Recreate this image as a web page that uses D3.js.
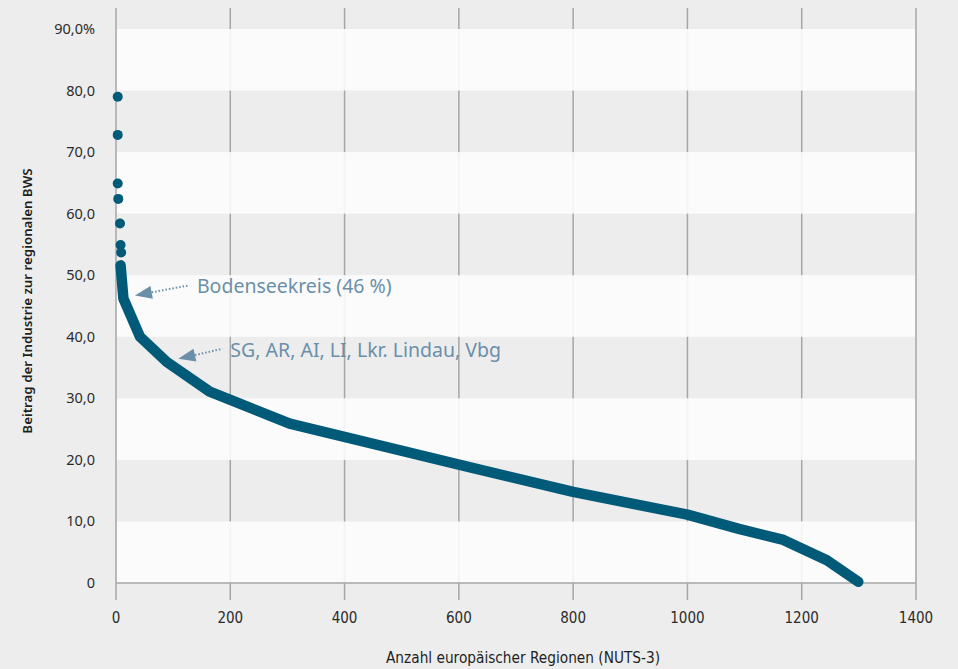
<!DOCTYPE html>
<html>
<head>
<meta charset="utf-8">
<script src="https://cdn.jsdelivr.net/npm/d3@7"></script>
<style>
  body { margin: 0; background: #ededed; }
  svg { display: block; font-family: "Noto Sans", sans-serif; }
</style>
</head>
<body>
<script>
// Single regions shown as dots (x = rank, y = share in %)
const dotX = [3, 3, 3, 4, 7, 8, 9];
const dotY = [79.0, 72.8, 64.9, 62.4, 58.4, 54.9, 53.7];

// Ranked curve for the remaining regions
const lineX = [8, 13, 42, 89, 164, 304, 620, 800, 1000, 1090, 1168, 1244, 1299];
const lineY = [51.6, 46.2, 40.0, 35.9, 31.1, 25.9, 18.8, 14.8, 11.1, 8.8, 7.0, 3.7, 0.2];

const xTicks = [0, 200, 400, 600, 800, 1000, 1200, 1400];
const yTicks = [0, 10, 20, 30, 40, 50, 60, 70, 80, 90];
const yTickLabels = ["0", "10,0", "20,0", "30,0", "40,0", "50,0", "60,0", "70,0", "80,0", "90,0%"];

const noteLabels = ["Bodenseekreis (46 %)", "SG, AR, AI, LI, Lkr. Lindau, Vbg"];
const noteX = [13, 89];
const noteY = [46.2, 35.9];

const width = 958, height = 669;
const plotLeft = 116, plotRight = 916, plotTop = 29, plotBottom = 583;

const svg = d3.select("body").append("svg")
    .attr("width", width)
    .attr("height", height);

const x = d3.scaleLinear().domain([0, 1400]).range([plotLeft, plotRight]);
const y = d3.scaleLinear().domain([0, 90]).range([plotBottom, plotTop]);

const ink = "#005a78";
const noteColor = "#6b8fa9";
const condensed = "'DejaVu Sans Condensed', 'Liberation Sans Narrow', sans-serif";

// background
svg.append("rect").attr("width", width).attr("height", height).attr("fill", "#ededed");

// inner vertical grid lines
svg.append("g").selectAll("line")
  .data(xTicks.slice(1, -1))
  .join("line")
    .attr("x1", d => x(d)).attr("x2", d => x(d))
    .attr("y1", 8).attr("y2", plotBottom + 17)
    .attr("stroke", "#a6a6a6").attr("stroke-width", 1.5);

// alternating light bands (0-10, 20-30, ...)
svg.append("g").selectAll("rect")
  .data(yTicks.filter(d => d % 20 === 0 && d < 90))
  .join("rect")
    .attr("x", plotLeft).attr("width", plotRight - plotLeft)
    .attr("y", d => y(d + 10)).attr("height", d => y(d) - y(d + 10))
    .attr("fill", "#fcfcfc").attr("opacity", 0.9);

// edge lines and baseline
[0, 1400].forEach(v => {
  svg.append("line")
    .attr("x1", x(v)).attr("x2", x(v))
    .attr("y1", 8).attr("y2", plotBottom + 17)
    .attr("stroke", "#a6a6a6").attr("stroke-width", 1.5);
});
svg.append("line")
  .attr("x1", plotLeft).attr("x2", plotRight)
  .attr("y1", plotBottom).attr("y2", plotBottom)
  .attr("stroke", "#a6a6a6").attr("stroke-width", 1.5);

// y tick labels
svg.append("g").selectAll("text")
  .data(yTicks)
  .join("text")
    .attr("x", 95)
    .attr("y", d => y(d) + 5)
    .attr("text-anchor", "end")
    .style("font-size", "14.5px")
    .attr("fill", "#2b2b2b")
    .text((d, i) => yTickLabels[i]);

// x tick labels
svg.append("g").selectAll("text")
  .data(xTicks)
  .join("text")
    .attr("x", d => x(d))
    .attr("y", 623)
    .attr("text-anchor", "middle")
    .style("font-size", "15px")
    .style("font-family", condensed)
    .attr("fill", "#2b2b2b")
    .text(d => d);

// axis titles
svg.append("text")
  .attr("x", 386)
  .attr("y", 662.5)
  .attr("textLength", 274)
  .attr("lengthAdjust", "spacingAndGlyphs")
  .style("font-size", "16px")
  .style("font-family", condensed)
  .style("font-weight", "500")
  .attr("fill", "#1e1e1e")
  .text("Anzahl europäischer Regionen (NUTS-3)");

svg.append("text")
  .attr("transform", "translate(32, 301) rotate(-90)")
  .attr("text-anchor", "middle")
  .style("font-size", "13.3px")
  .style("font-weight", "600")
  .attr("fill", "#1e1e1e")
  .text("Beitrag der Industrie zur regionalen BWS");

// curve
svg.append("path")
  .datum(lineX.map((d, i) => [d, lineY[i]]))
  .attr("fill", "none")
  .attr("stroke", ink)
  .attr("stroke-width", 10.5)
  .attr("stroke-linejoin", "round")
  .attr("stroke-linecap", "round")
  .attr("d", d3.line().x(d => x(d[0])).y(d => y(d[1])));

// dots
svg.append("g").selectAll("circle")
  .data(dotX.map((d, i) => [d, dotY[i]]))
  .join("circle")
    .attr("cx", d => x(d[0]))
    .attr("cy", d => y(d[1]))
    .attr("r", 5)
    .attr("fill", ink);

// annotations with dotted arrows
const arrowLen = [54, 44];
const noteG = svg.append("g");
noteLabels.forEach((label, i) => {
  const tipX = x(noteX[i]) + 11.5, tipY = y(noteY[i]) - 3.2;
  const tailX = tipX + arrowLen[i], tailY = tipY - 10;
  const ang = Math.atan2(tailY - tipY, tailX - tipX);
  const len = 17, half = 6.5;
  const bx = tipX + len * Math.cos(ang), by = tipY + len * Math.sin(ang);
  noteG.append("line")
    .attr("x1", bx).attr("y1", by)
    .attr("x2", tailX).attr("y2", tailY)
    .attr("stroke", noteColor)
    .attr("stroke-width", 2)
    .attr("stroke-dasharray", "1.5,2");
  noteG.append("path")
    .attr("d", `M${tipX},${tipY} L${bx - half * Math.sin(ang)},${by + half * Math.cos(ang)} L${bx + half * Math.sin(ang)},${by - half * Math.cos(ang)} Z`)
    .attr("fill", noteColor);
  noteG.append("text")
    .attr("x", tailX + 8)
    .attr("y", tailY + 8)
    .style("font-size", "19.5px")
    .attr("fill", noteColor)
    .text(label);
});
</script>
</body>
</html>
